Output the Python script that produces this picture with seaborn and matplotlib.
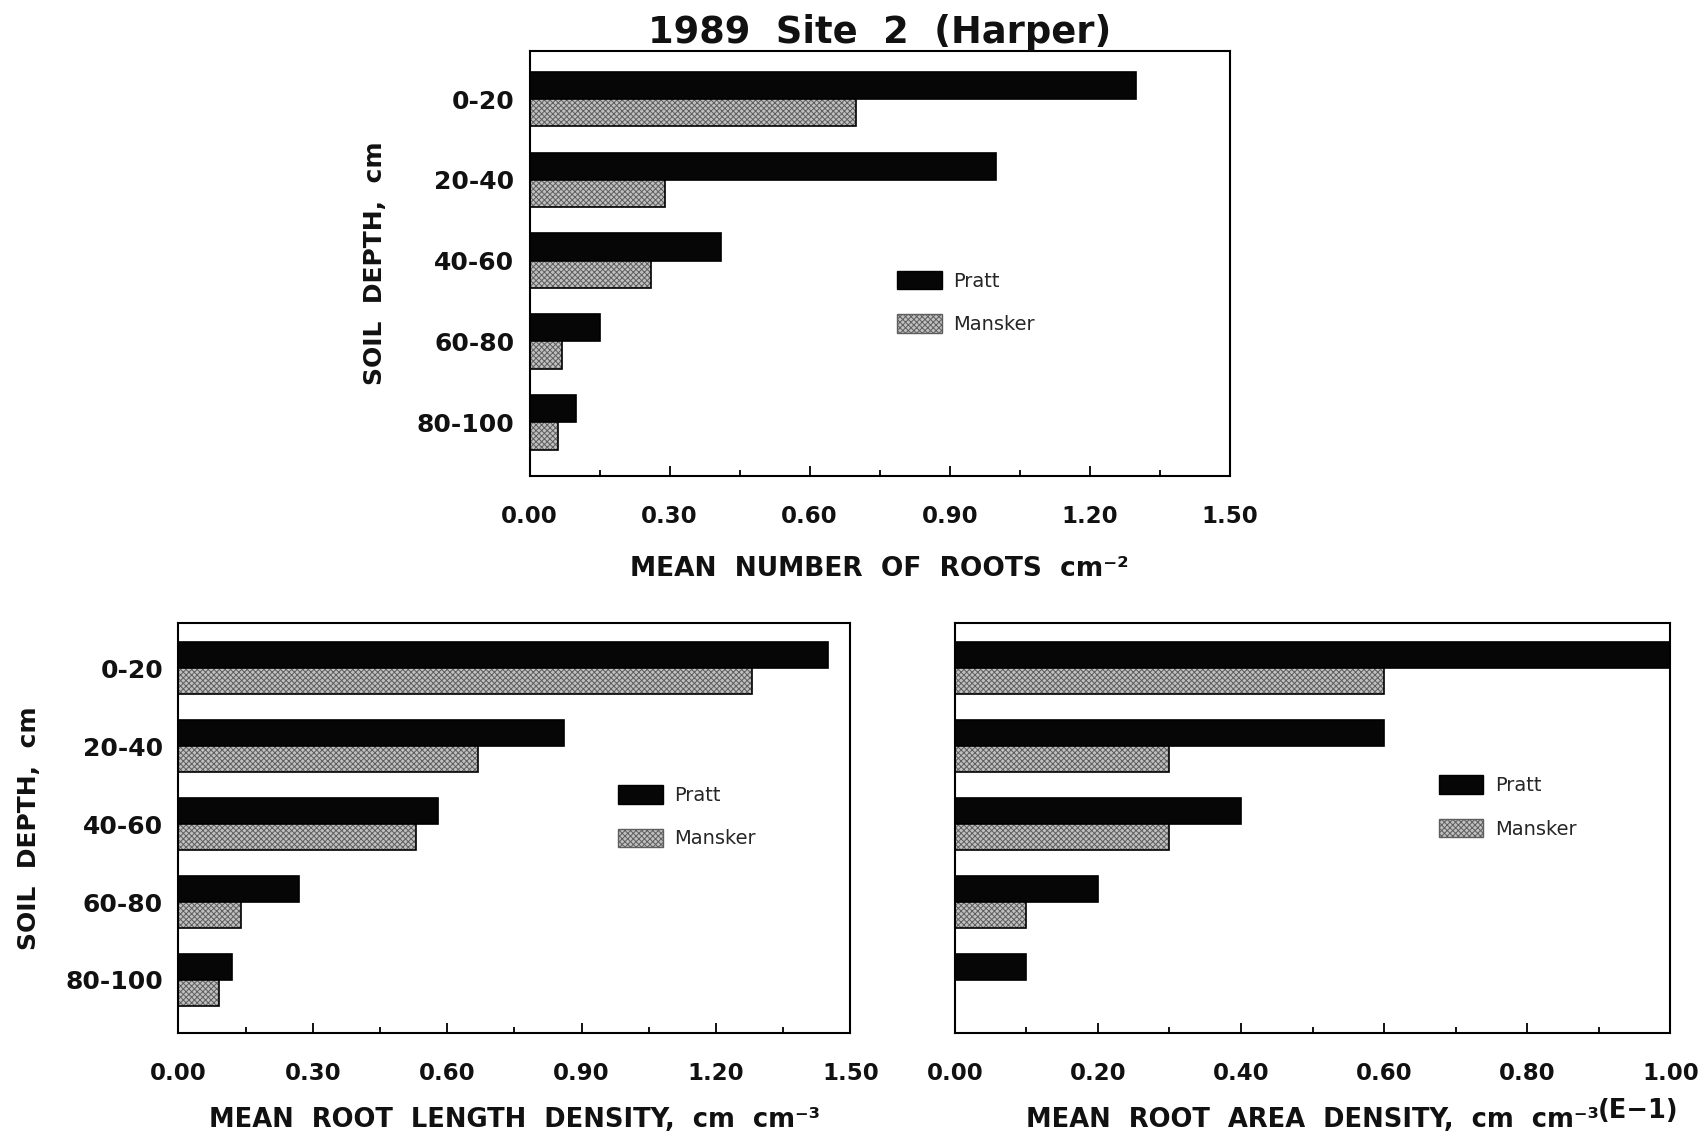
import numpy as np
import pandas as pd
import matplotlib
matplotlib.use("Agg")
import matplotlib.pyplot as plt
import seaborn as sns
from matplotlib.patches import Patch, Rectangle
from matplotlib.ticker import MultipleLocator, FormatStrFormatter

# ---------------- data ----------------
depths = ["0-20", "20-40", "40-60", "60-80", "80-100"]
cultivars = ["Pratt", "Mansker"]

roots_pratt = [1.30, 1.00, 0.41, 0.15, 0.10]
roots_mansker = [0.70, 0.29, 0.26, 0.07, 0.06]

rld_pratt = [1.45, 0.86, 0.58, 0.27, 0.12]
rld_mansker = [1.28, 0.67, 0.53, 0.14, 0.09]

rad_pratt = [1.00, 0.60, 0.40, 0.20, 0.10]
rad_mansker = [0.60, 0.30, 0.30, 0.10, 0.00]

title = "1989  Site  2  (Harper)"
ylabel = "SOIL  DEPTH,  cm"
xlabel_top = "MEAN  NUMBER  OF  ROOTS  cm\u207b\u00b2"
xlabel_bl = "MEAN  ROOT  LENGTH  DENSITY,  cm  cm\u207b\u00b3"
xlabel_br = "MEAN  ROOT  AREA  DENSITY,  cm  cm\u207b\u00b3"
xlabel_br_suffix = "(E\u22121)"


def make_df(p, m):
    return pd.DataFrame({
        "depth": depths * 2,
        "cultivar": ["Pratt"] * len(depths) + ["Mansker"] * len(depths),
        "value": list(p) + list(m),
    })


sns.set_style("white")
plt.rcParams["font.family"] = ["DejaVu Sans"]
plt.rcParams["hatch.linewidth"] = 0.7

BLACK = "#060606"
GREY = "#c0c0c0"
HATCH_EDGE = "#5e5e5e"
palette = {"Pratt": BLACK, "Mansker": GREY}
TXT = "#111111"

fig = plt.figure(figsize=(17.05, 11.38), dpi=100)
ax_top = fig.add_axes([0.3106, 0.5815, 0.4107, 0.3736])
ax_bl = fig.add_axes([0.1046, 0.0923, 0.3941, 0.3603])
ax_br = fig.add_axes([0.5600, 0.0923, 0.4197, 0.3603])


def draw(ax, p, m, xmax, major, minor, ylim, show_y, leg_anchor):
    df = make_df(p, m)
    sns.barplot(data=df, x="value", y="depth", hue="cultivar", order=depths,
                hue_order=cultivars, orient="h", palette=palette, width=0.675,
                edgecolor="black", linewidth=1.2, legend=False, ax=ax,
                errorbar=None, saturation=1)
    # hatch the Mansker bars
    for patch in ax.containers[1]:
        patch.set_hatch("xxxxxx")
        patch.set_edgecolor(HATCH_EDGE)
        patch.set_linewidth(0)
        if patch.get_width() > 0:
            ax.add_patch(Rectangle((patch.get_x(), patch.get_y()),
                                   patch.get_width(), patch.get_height(),
                                   fill=False, edgecolor="black", linewidth=1.2,
                                   zorder=patch.get_zorder() + 0.1))
    ax.set_xlim(0, xmax)
    ax.set_ylim(*ylim)
    ax.xaxis.set_major_locator(MultipleLocator(major))
    ax.xaxis.set_minor_locator(MultipleLocator(minor))
    ax.xaxis.set_major_formatter(FormatStrFormatter("%.2f"))
    ax.tick_params(axis="x", which="both", direction="in", bottom=True,
                   top=False, pad=21, labelsize=16.5, width=1.3, color="black")
    ax.tick_params(axis="x", which="major", length=7)
    ax.tick_params(axis="x", which="minor", length=4)
    ax.tick_params(axis="y", which="both", length=0, pad=11, labelsize=18)
    for lbl in ax.get_xticklabels() + ax.get_yticklabels():
        lbl.set_fontweight("bold")
        lbl.set_color(TXT)
    for lbl in ax.get_yticklabels():
        lbl.set_va("center_baseline")
    if not show_y:
        ax.set_yticklabels([])
        ax.set_ylabel("")
    else:
        ax.set_ylabel(ylabel, fontsize=18, fontweight="bold", color=TXT)
        ax.yaxis.set_label_coords(-0.204, 0.5)
    for s in ax.spines.values():
        s.set_visible(True)
        s.set_color("black")
        s.set_linewidth(1.5)
    handles = [Patch(facecolor=BLACK, edgecolor="black", linewidth=1),
               Patch(facecolor=GREY, edgecolor=HATCH_EDGE, hatch="xxxxxx", linewidth=1)]
    ax.legend(handles, cultivars, loc="center left", bbox_to_anchor=leg_anchor,
              frameon=False, fontsize=14, handlelength=2.3, handleheight=1.1,
              labelspacing=1.2, handletextpad=0.6, borderpad=0, borderaxespad=0)


draw(ax_top, roots_pratt, roots_mansker, 1.5, 0.30, 0.15, (4.668, -0.593), True, (0.525, 0.409))
draw(ax_bl, rld_pratt, rld_mansker, 1.5, 0.30, 0.15, (4.68, -0.58), True, (0.654, 0.527))
draw(ax_br, rad_pratt, rad_mansker, 1.0, 0.20, 0.10, (4.68, -0.58), False, (0.676, 0.551))

ax_top.set_title(title, fontsize=26.5, fontweight="bold", color=TXT, pad=4)

ax_top.set_xlabel(xlabel_top, fontsize=19, fontweight="bold", color=TXT)
ax_top.xaxis.set_label_coords(0.5, -0.217)
ax_top.xaxis.label.set_va("center")

ax_bl.set_xlabel(xlabel_bl, fontsize=18.5, fontweight="bold", color=TXT)
ax_bl.xaxis.set_label_coords(0.5, -0.212)
ax_bl.xaxis.label.set_va("center")

ax_br.set_xlabel(xlabel_br, fontsize=18.5, fontweight="bold", color=TXT)
ax_br.xaxis.set_label_coords(0.5, -0.212)
ax_br.xaxis.label.set_va("center")
ax_br.annotate(xlabel_br_suffix, xy=(1, 0), xycoords=ax_br.xaxis.label,
               xytext=(-1, 11), textcoords="offset points", ha="left", va="baseline",
               fontsize=18.5, fontweight="bold", color=TXT)

fig.savefig("out.png", dpi=100, facecolor="white")
